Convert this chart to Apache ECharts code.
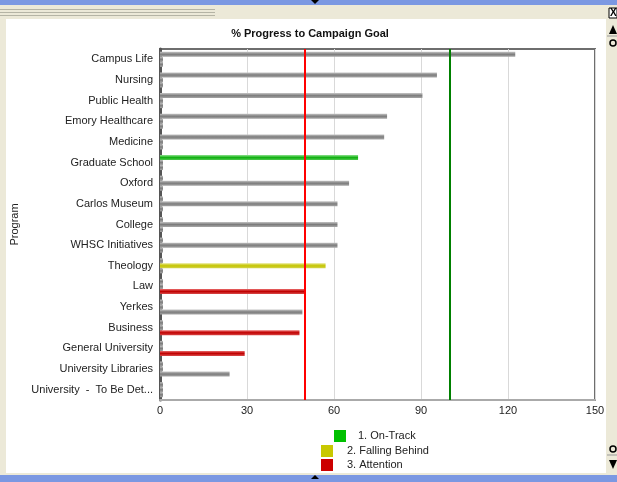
<!DOCTYPE html>
<html>
<head>
<meta charset="utf-8">
<script src="https://cdn.jsdelivr.net/npm/echarts@6/dist/echarts.min.js"></script>
<style>
html,body{margin:0;padding:0;background:#ece9d8;}
#chart{width:617px;height:482px;}
</style>
</head>
<body>
<div id="chart"></div>
<script>
const categories = ['Campus Life','Nursing','Public Health','Emory Healthcare','Medicine','Graduate School','Oxford','Carlos Museum','College','WHSC Initiatives','Theology','Law','Yerkes','Business','General University','University Libraries','University  -  To Be Det...'];
const onTrack       = [122.5, 95.5, 90.5, 78.3, 77.3, 68.3, 0, 0, 0, 0, 0, 0, 0, 0, 0, 0, 0];
const fallingBehind = [0, 0, 0, 0, 0, 0, 65.2, 61.2, 61.2, 61.2, 57.1, 0, 0, 0, 0, 0, 0];
const attention     = [0, 0, 0, 0, 0, 0, 0, 0, 0, 0, 0, 50, 49.1, 48.1, 29.2, 24, 0];
const highlighted   = ['Graduate School','Theology','Law','Business','General University'];
const seriesNames   = ['1. On-Track','2. Falling Behind','3. Attention'];
const goalLines     = [50, 100];
const xMin = 0, xMax = 150, xInterval = 30;

function grad(a,b,c){
  return new echarts.graphic.LinearGradient(0,0,0,1,[{offset:0,color:a},{offset:0.5,color:b},{offset:1,color:c}]);
}
const greyG = () => grad('#c4c4c4','#7c7c7c','#a8a8a8');
const colorG = [
  () => grad('#8ce08c','#10b010','#50c850'),
  () => grad('#e4e480','#c4c400','#d4d450'),
  () => grad('#ec7070','#c00000','#d84848')
];
const flat = ['#00c000','#c8c800','#cc0000'];

function mk(values, idx){
  return values.map((v,i)=>({
    value: v,
    itemStyle: {color: (v>0 && highlighted.includes(categories[i])) ? colorG[idx]() : greyG()}
  }));
}
const seriesData = [onTrack, fallingBehind, attention];

const chart = echarts.init(document.getElementById('chart'), null, {renderer:'canvas'});
const series = seriesData.map((d,idx)=>({
  name: seriesNames[idx],
  type: 'bar',
  data: mk(d, idx),
  barWidth: 5,
  barGap: '0%',
  barMinHeight: 3,
  itemStyle: {color: flat[idx]},
  silent: true,
  animation: false
}));
series[0].markLine = {
  silent: true, symbol: 'none', label: {show:false},
  data: [
    {xAxis: goalLines[0], lineStyle:{color:'#ff0000', width:2, type:'solid'}},
    {xAxis: goalLines[1], lineStyle:{color:'#008000', width:2, type:'solid'}}
  ],
  animation: false
};

const option = {
  backgroundColor: '#ece9d8',
  animation: false,
  graphic: [
    {type:'rect', shape:{x:0,y:0,width:617,height:5}, style:{fill:'#7b98e2'}, z:-10},
    {type:'polygon', shape:{points:[[311,0],[319,0],[315,4]]}, style:{fill:'#000'}, z:-9},
    {type:'rect', shape:{x:0,y:475,width:617,height:7}, style:{fill:'#7b98e2'}, z:-10},
    {type:'polygon', shape:{points:[[311,479],[319,479],[315,475]]}, style:{fill:'#000'}, z:-9},
    {type:'line', shape:{x1:0,y1:9.5,x2:215,y2:9.5}, style:{stroke:'#b5b4a5',lineWidth:1}, z:-9},
    {type:'line', shape:{x1:0,y1:12.5,x2:215,y2:12.5}, style:{stroke:'#b5b4a5',lineWidth:1}, z:-9},
    {type:'line', shape:{x1:0,y1:15.5,x2:215,y2:15.5}, style:{stroke:'#b5b4a5',lineWidth:1}, z:-9},
    {type:'rect', shape:{x:6,y:19,width:600,height:454}, style:{fill:'#ffffff'}, z:-10},
    {type:'rect', shape:{x:609,y:8,width:8,height:10}, style:{fill:'#ffffff', stroke:'#000', lineWidth:1}, z:-9},
    {type:'text', style:{text:'X', x:610, y:8, fontSize:10, fontWeight:'bold', fill:'#000', fontFamily:'Liberation Sans'}, z:-8},
    {type:'polygon', shape:{points:[[609,34],[617,34],[613,25]]}, style:{fill:'#000'}, z:-9},
    {type:'line', shape:{x1:607,y1:36,x2:617,y2:36}, style:{stroke:'#999',lineWidth:1}, z:-9},
    {type:'circle', shape:{cx:613,cy:43,r:3}, style:{fill:'none', stroke:'#000', lineWidth:1.5}, z:-9},
    {type:'circle', shape:{cx:613,cy:449,r:3}, style:{fill:'none', stroke:'#000', lineWidth:1.5}, z:-9},
    {type:'line', shape:{x1:607,y1:455,x2:617,y2:455}, style:{stroke:'#999',lineWidth:1}, z:-9},
    {type:'polygon', shape:{points:[[609,460],[617,460],[613,469]]}, style:{fill:'#000'}, z:-9}
  ],
  title: {
    text: '% Progress to Campaign Goal',
    left: 305, textAlign: 'center', top: 23,
    textStyle: {fontSize: 11, fontWeight: 'bold', color: '#111', fontFamily: 'Liberation Sans'}
  },
  legend: [
    {
      data: [seriesNames[0]],
      left: 334, top: 430, padding: 0, itemWidth: 12, itemHeight: 12, icon: 'rect',
      selectedMode: false,
      textStyle: {fontSize: 11, color: '#222', fontFamily: 'Liberation Sans', padding:[0,0,0,7]}
    },
    {
      data: [seriesNames[1], seriesNames[2]],
      orient: 'vertical',
      left: 321, top: 445, padding: 0, itemWidth: 12, itemHeight: 12, itemGap: 2, icon: 'rect',
      selectedMode: false,
      textStyle: {fontSize: 11, color: '#222', fontFamily: 'Liberation Sans', padding:[0,0,0,9]}
    }
  ],
  grid: {
    left: 160, top: 49, width: 435, height: 351,
    show: true, borderColor: '#6e6e6e', borderWidth: 2, backgroundColor: '#ffffff'
  },
  xAxis: {
    type: 'value', min: xMin, max: xMax, interval: xInterval,
    axisLine: {show: true, lineStyle: {color: '#aaaaaa', width: 2}},
    axisTick: {show: false},
    axisLabel: {fontSize: 11, color: '#222', margin: 5, fontFamily: 'Liberation Sans'},
    splitLine: {show: true, lineStyle: {color: '#d9d9d9', width: 1}}
  },
  yAxis: {
    type: 'category', data: categories, inverse: true,
    name: 'Program', nameLocation: 'middle', nameRotate: 90, nameGap: 134,
    nameTextStyle: {fontSize: 11, color: '#222', fontFamily: 'Liberation Sans'},
    axisLine: {show: true, lineStyle: {color: '#555555', width: 3}},
    axisTick: {show: false},
    axisLabel: {fontSize: 11, color: '#222', margin: 7, fontFamily: 'Liberation Sans'}
  },
  series: series
};
chart.setOption(option);
</script>
</body>
</html>
